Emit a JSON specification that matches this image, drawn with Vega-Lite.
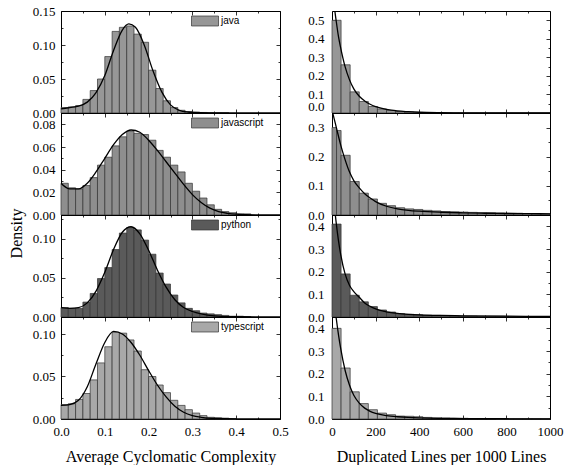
{
"$schema": "https://vega.github.io/schema/vega-lite/v6.json",
"padding": {"left": 7, "top": 4, "right": 0, "bottom": 0},
"config": {
  "view": {"stroke": "#000000", "strokeWidth": 1},
  "axis": {"domain": false, "grid": false, "tickColor": "#000000", "tickWidth": 0.8, "labelFont": "Liberation Serif", "labelFontSize": 13, "labelColor": "#000000", "labelOverlap": false, "labelFlush": false, "labelBound": false, "titleFont": "Liberation Serif", "titleFontSize": 16, "titleFontWeight": "normal", "titleColor": "#000000", "labelPadding": 10},
  "legend": {"labelFont": "Liberation Sans", "labelFontSize": 10, "labelColor": "#000000", "symbolType": "M-1,-0.37H1V0.37H-1Z", "symbolSize": 729, "symbolStrokeColor": "#333333", "symbolStrokeWidth": 0.7, "labelOffset": 2, "padding": 0}
},
"datasets": {
"jc": [{"a":0,"b":0.0167,"d":0.008},{"a":0.0167,"b":0.0333,"d":0.009},{"a":0.0333,"b":0.05,"d":0.011},{"a":0.05,"b":0.0667,"d":0.020},{"a":0.0667,"b":0.0833,"d":0.033},{"a":0.0833,"b":0.1,"d":0.050},{"a":0.1,"b":0.1167,"d":0.083},{"a":0.1167,"b":0.1333,"d":0.120},{"a":0.1333,"b":0.15,"d":0.126},{"a":0.15,"b":0.1667,"d":0.128},{"a":0.1667,"b":0.1833,"d":0.116},{"a":0.1833,"b":0.2,"d":0.104},{"a":0.2,"b":0.2167,"d":0.063},{"a":0.2167,"b":0.2333,"d":0.036},{"a":0.2333,"b":0.25,"d":0.018},{"a":0.25,"b":0.2667,"d":0.008},{"a":0.2667,"b":0.2833,"d":0.004},{"a":0.2833,"b":0.3,"d":0.002},{"a":0.3,"b":0.3167,"d":0.0012},{"a":0.3167,"b":0.3333,"d":0.0008},{"a":0.3333,"b":0.35,"d":0.0005},{"a":0.35,"b":0.3667,"d":0.0003},{"a":0.3667,"b":0.3833,"d":0.0002}],
"jk": [{"x":0,"d":0.006},{"x":0.02,"d":0.008},{"x":0.04,"d":0.010},{"x":0.06,"d":0.016},{"x":0.08,"d":0.030},{"x":0.10,"d":0.055},{"x":0.12,"d":0.092},{"x":0.14,"d":0.122},{"x":0.155,"d":0.131},{"x":0.17,"d":0.126},{"x":0.19,"d":0.100},{"x":0.21,"d":0.062},{"x":0.23,"d":0.031},{"x":0.25,"d":0.012},{"x":0.27,"d":0.004},{"x":0.29,"d":0.0015},{"x":0.32,"d":0.0004},{"x":0.36,"d":0.0001},{"x":0.5,"d":0}],
"jsc": [{"a":0,"b":0.0167,"d":0.028},{"a":0.0167,"b":0.0333,"d":0.024},{"a":0.0333,"b":0.05,"d":0.023},{"a":0.05,"b":0.0667,"d":0.026},{"a":0.0667,"b":0.0833,"d":0.033},{"a":0.0833,"b":0.1,"d":0.044},{"a":0.1,"b":0.1167,"d":0.051},{"a":0.1167,"b":0.1333,"d":0.061},{"a":0.1333,"b":0.15,"d":0.069},{"a":0.15,"b":0.1667,"d":0.074},{"a":0.1667,"b":0.1833,"d":0.072},{"a":0.1833,"b":0.2,"d":0.071},{"a":0.2,"b":0.2167,"d":0.066},{"a":0.2167,"b":0.2333,"d":0.057},{"a":0.2333,"b":0.25,"d":0.051},{"a":0.25,"b":0.2667,"d":0.044},{"a":0.2667,"b":0.2833,"d":0.038},{"a":0.2833,"b":0.3,"d":0.028},{"a":0.3,"b":0.3167,"d":0.021},{"a":0.3167,"b":0.3333,"d":0.015},{"a":0.3333,"b":0.35,"d":0.009},{"a":0.35,"b":0.3667,"d":0.005},{"a":0.3667,"b":0.3833,"d":0.003},{"a":0.3833,"b":0.4,"d":0.002},{"a":0.4,"b":0.4167,"d":0.001},{"a":0.4167,"b":0.4333,"d":0.001}],
"jsk": [{"x":0,"d":0.028},{"x":0.02,"d":0.023},{"x":0.04,"d":0.023},{"x":0.06,"d":0.028},{"x":0.08,"d":0.038},{"x":0.10,"d":0.050},{"x":0.12,"d":0.062},{"x":0.14,"d":0.071},{"x":0.16,"d":0.075},{"x":0.18,"d":0.073},{"x":0.20,"d":0.066},{"x":0.22,"d":0.057},{"x":0.24,"d":0.047},{"x":0.26,"d":0.037},{"x":0.28,"d":0.027},{"x":0.30,"d":0.018},{"x":0.32,"d":0.011},{"x":0.34,"d":0.006},{"x":0.36,"d":0.003},{"x":0.38,"d":0.0015},{"x":0.40,"d":0.0007},{"x":0.45,"d":0.0001},{"x":0.5,"d":0}],
"pc": [{"a":0,"b":0.0167,"d":0.012},{"a":0.0167,"b":0.0333,"d":0.011},{"a":0.0333,"b":0.05,"d":0.011},{"a":0.05,"b":0.0667,"d":0.019},{"a":0.0667,"b":0.0833,"d":0.030},{"a":0.0833,"b":0.1,"d":0.049},{"a":0.1,"b":0.1167,"d":0.063},{"a":0.1167,"b":0.1333,"d":0.086},{"a":0.1333,"b":0.15,"d":0.107},{"a":0.15,"b":0.1667,"d":0.114},{"a":0.1667,"b":0.1833,"d":0.111},{"a":0.1833,"b":0.2,"d":0.098},{"a":0.2,"b":0.2167,"d":0.080},{"a":0.2167,"b":0.2333,"d":0.056},{"a":0.2333,"b":0.25,"d":0.042},{"a":0.25,"b":0.2667,"d":0.028},{"a":0.2667,"b":0.2833,"d":0.018},{"a":0.2833,"b":0.3,"d":0.011},{"a":0.3,"b":0.3167,"d":0.008},{"a":0.3167,"b":0.3333,"d":0.005},{"a":0.3333,"b":0.35,"d":0.004},{"a":0.35,"b":0.3667,"d":0.003},{"a":0.3667,"b":0.3833,"d":0.002},{"a":0.3833,"b":0.4,"d":0.001},{"a":0.4,"b":0.4167,"d":0.001},{"a":0.4167,"b":0.4333,"d":0.0005}],
"pk": [{"x":0,"d":0.012},{"x":0.02,"d":0.011},{"x":0.04,"d":0.012},{"x":0.06,"d":0.018},{"x":0.08,"d":0.033},{"x":0.10,"d":0.057},{"x":0.12,"d":0.086},{"x":0.14,"d":0.108},{"x":0.16,"d":0.115},{"x":0.18,"d":0.106},{"x":0.20,"d":0.085},{"x":0.22,"d":0.060},{"x":0.24,"d":0.038},{"x":0.26,"d":0.022},{"x":0.28,"d":0.012},{"x":0.30,"d":0.007},{"x":0.32,"d":0.004},{"x":0.35,"d":0.0015},{"x":0.40,"d":0.0003},{"x":0.5,"d":0}],
"tc": [{"a":0,"b":0.0167,"d":0.017},{"a":0.0167,"b":0.0333,"d":0.018},{"a":0.0333,"b":0.05,"d":0.023},{"a":0.05,"b":0.0667,"d":0.030},{"a":0.0667,"b":0.0833,"d":0.046},{"a":0.0833,"b":0.1,"d":0.066},{"a":0.1,"b":0.1167,"d":0.085},{"a":0.1167,"b":0.1333,"d":0.102},{"a":0.1333,"b":0.15,"d":0.101},{"a":0.15,"b":0.1667,"d":0.093},{"a":0.1667,"b":0.1833,"d":0.080},{"a":0.1833,"b":0.2,"d":0.058},{"a":0.2,"b":0.2167,"d":0.050},{"a":0.2167,"b":0.2333,"d":0.040},{"a":0.2333,"b":0.25,"d":0.031},{"a":0.25,"b":0.2667,"d":0.022},{"a":0.2667,"b":0.2833,"d":0.016},{"a":0.2833,"b":0.3,"d":0.011},{"a":0.3,"b":0.3167,"d":0.007},{"a":0.3167,"b":0.3333,"d":0.004},{"a":0.3333,"b":0.35,"d":0.002},{"a":0.35,"b":0.3667,"d":0.0015},{"a":0.3667,"b":0.3833,"d":0.001},{"a":0.3833,"b":0.4,"d":0.0005}],
"tk": [{"x":0,"d":0.016},{"x":0.02,"d":0.017},{"x":0.04,"d":0.022},{"x":0.06,"d":0.038},{"x":0.08,"d":0.065},{"x":0.10,"d":0.090},{"x":0.12,"d":0.103},{"x":0.14,"d":0.100},{"x":0.16,"d":0.090},{"x":0.18,"d":0.075},{"x":0.20,"d":0.057},{"x":0.22,"d":0.040},{"x":0.24,"d":0.026},{"x":0.26,"d":0.015},{"x":0.28,"d":0.008},{"x":0.30,"d":0.004},{"x":0.32,"d":0.002},{"x":0.35,"d":0.0006},{"x":0.40,"d":0.0001},{"x":0.5,"d":0}],
"jr": [{"a":0,"b":41.7,"d":0.50},{"a":41.7,"b":83.3,"d":0.26},{"a":83.3,"b":125,"d":0.114},{"a":125,"b":166.7,"d":0.062},{"a":166.7,"b":208.3,"d":0.035},{"a":208.3,"b":250,"d":0.022},{"a":250,"b":291.7,"d":0.014},{"a":291.7,"b":333.3,"d":0.008},{"a":333.3,"b":375,"d":0.005},{"a":375,"b":416.7,"d":0.003},{"a":416.7,"b":458.3,"d":0.002},{"a":458.3,"b":500,"d":0.0015},{"a":500,"b":541.7,"d":0.001},{"a":541.7,"b":583.3,"d":0.001},{"a":583.3,"b":625,"d":0.0007},{"a":625,"b":666.7,"d":0.0005},{"a":666.7,"b":708.3,"d":0.0004},{"a":708.3,"b":750,"d":0.0003},{"a":750,"b":791.7,"d":0.0002},{"a":791.7,"b":833.3,"d":0.0002},{"a":833.3,"b":875,"d":0.0001},{"a":875,"b":916.7,"d":0.0001},{"a":916.7,"b":958.3,"d":0.0001},{"a":958.3,"b":1000,"d":0.0001}],
"jrk": [{"x":0,"d":0.70},{"x":10,"d":0.58},{"x":20,"d":0.49},{"x":30,"d":0.41},{"x":40,"d":0.35},{"x":60,"d":0.25},{"x":80,"d":0.18},{"x":100,"d":0.13},{"x":125,"d":0.09},{"x":150,"d":0.065},{"x":175,"d":0.047},{"x":200,"d":0.034},{"x":250,"d":0.019},{"x":300,"d":0.011},{"x":350,"d":0.007},{"x":400,"d":0.004},{"x":500,"d":0.0015},{"x":600,"d":0.0006},{"x":800,"d":0.0001},{"x":1000,"d":0}],
"jsr": [{"a":0,"b":20.8,"d":0.30},{"a":20.8,"b":41.7,"d":0.29},{"a":41.7,"b":83.3,"d":0.205},{"a":83.3,"b":125,"d":0.115},{"a":125,"b":166.7,"d":0.075},{"a":166.7,"b":208.3,"d":0.055},{"a":208.3,"b":250,"d":0.040},{"a":250,"b":291.7,"d":0.032},{"a":291.7,"b":333.3,"d":0.025},{"a":333.3,"b":375,"d":0.021},{"a":375,"b":416.7,"d":0.019},{"a":416.7,"b":458.3,"d":0.016},{"a":458.3,"b":500,"d":0.014},{"a":500,"b":541.7,"d":0.012},{"a":541.7,"b":583.3,"d":0.011},{"a":583.3,"b":625,"d":0.010},{"a":625,"b":666.7,"d":0.009},{"a":666.7,"b":708.3,"d":0.008},{"a":708.3,"b":750,"d":0.008},{"a":750,"b":791.7,"d":0.007},{"a":791.7,"b":833.3,"d":0.006},{"a":833.3,"b":875,"d":0.006},{"a":875,"b":916.7,"d":0.005},{"a":916.7,"b":958.3,"d":0.005},{"a":958.3,"b":1000,"d":0.004}],
"jsrk": [{"x":0,"d":0.36},{"x":10,"d":0.33},{"x":20,"d":0.30},{"x":40,"d":0.24},{"x":60,"d":0.19},{"x":80,"d":0.148},{"x":100,"d":0.118},{"x":125,"d":0.093},{"x":150,"d":0.073},{"x":175,"d":0.058},{"x":200,"d":0.046},{"x":250,"d":0.030},{"x":300,"d":0.021},{"x":350,"d":0.016},{"x":400,"d":0.013},{"x":500,"d":0.0095},{"x":600,"d":0.0075},{"x":700,"d":0.006},{"x":800,"d":0.0052},{"x":900,"d":0.0046},{"x":1000,"d":0.0042}],
"pr": [{"a":0,"b":41.7,"d":0.41},{"a":41.7,"b":83.3,"d":0.19},{"a":83.3,"b":125,"d":0.096},{"a":125,"b":166.7,"d":0.067},{"a":166.7,"b":208.3,"d":0.046},{"a":208.3,"b":250,"d":0.031},{"a":250,"b":291.7,"d":0.022},{"a":291.7,"b":333.3,"d":0.015},{"a":333.3,"b":375,"d":0.012},{"a":375,"b":416.7,"d":0.010},{"a":416.7,"b":458.3,"d":0.008},{"a":458.3,"b":500,"d":0.007},{"a":500,"b":541.7,"d":0.006},{"a":541.7,"b":583.3,"d":0.005},{"a":583.3,"b":625,"d":0.004},{"a":625,"b":666.7,"d":0.004},{"a":666.7,"b":708.3,"d":0.003},{"a":708.3,"b":750,"d":0.003},{"a":750,"b":791.7,"d":0.003},{"a":791.7,"b":833.3,"d":0.002},{"a":833.3,"b":875,"d":0.002},{"a":875,"b":916.7,"d":0.002},{"a":916.7,"b":958.3,"d":0.002},{"a":958.3,"b":1000,"d":0.002}],
"prk": [{"x":0,"d":0.62},{"x":10,"d":0.50},{"x":20,"d":0.41},{"x":30,"d":0.335},{"x":40,"d":0.275},{"x":60,"d":0.19},{"x":80,"d":0.14},{"x":100,"d":0.112},{"x":125,"d":0.087},{"x":150,"d":0.062},{"x":175,"d":0.047},{"x":200,"d":0.036},{"x":250,"d":0.023},{"x":300,"d":0.016},{"x":350,"d":0.012},{"x":400,"d":0.0095},{"x":500,"d":0.0068},{"x":600,"d":0.0052},{"x":800,"d":0.0035},{"x":1000,"d":0.0027}],
"tr": [{"a":0,"b":41.7,"d":0.40},{"a":41.7,"b":83.3,"d":0.225},{"a":83.3,"b":125,"d":0.12},{"a":125,"b":166.7,"d":0.068},{"a":166.7,"b":208.3,"d":0.041},{"a":208.3,"b":250,"d":0.026},{"a":250,"b":291.7,"d":0.019},{"a":291.7,"b":333.3,"d":0.013},{"a":333.3,"b":375,"d":0.012},{"a":375,"b":416.7,"d":0.010},{"a":416.7,"b":458.3,"d":0.007},{"a":458.3,"b":500,"d":0.005},{"a":500,"b":541.7,"d":0.004},{"a":541.7,"b":583.3,"d":0.003},{"a":583.3,"b":625,"d":0.003},{"a":625,"b":666.7,"d":0.002},{"a":666.7,"b":708.3,"d":0.002},{"a":708.3,"b":750,"d":0.002},{"a":750,"b":791.7,"d":0.001},{"a":791.7,"b":833.3,"d":0.001},{"a":833.3,"b":875,"d":0.001},{"a":875,"b":916.7,"d":0.001},{"a":916.7,"b":958.3,"d":0.001},{"a":958.3,"b":1000,"d":0.001}],
"trk": [{"x":0,"d":0.62},{"x":10,"d":0.52},{"x":20,"d":0.44},{"x":30,"d":0.37},{"x":40,"d":0.31},{"x":60,"d":0.215},{"x":80,"d":0.15},{"x":100,"d":0.105},{"x":125,"d":0.07},{"x":150,"d":0.048},{"x":175,"d":0.034},{"x":200,"d":0.025},{"x":250,"d":0.015},{"x":300,"d":0.01},{"x":350,"d":0.007},{"x":400,"d":0.005},{"x":500,"d":0.003},{"x":600,"d":0.002},{"x":800,"d":0.001},{"x":1000,"d":0.0005}]
},
"hconcat": [
{
"vconcat": [
{
 "width": 219, "height": 102,
 "resolve": {"axis": {"x": "independent", "y": "independent"}},
 "layer": [
  {"data": {"name": "jc"},
   "mark": {"type": "rect", "stroke": "#333333", "strokeWidth": 0.7},
   "encoding": {
    "x": {"field": "a", "type": "quantitative", "scale": {"domain": [0, 0.5], "nice": false}, "axis": {"orient": "bottom", "title": null, "labels": false, "values": [0,0.05,0.1,0.15,0.2,0.25,0.3,0.35,0.4,0.45,0.5], "tickSize": {"condition": {"test": "abs(datum.value*10-round(datum.value*10))<0.000001", "value": -4}, "value": -2}}},
    "x2": {"field": "b"},
    "y": {"field": "d", "type": "quantitative", "scale": {"domain": [0, 0.15], "nice": false}, "axis": {"orient": "left", "title": null, "values": [0,0.025,0.05,0.075,0.1,0.125,0.15], "format": ".2f", "labelExpr": "abs(datum.value/0.05-round(datum.value/0.05))<0.000001 ? datum.label : ''", "tickSize": {"condition": {"test": "abs(datum.value/0.05-round(datum.value/0.05))<0.000001", "value": -4}, "value": -2}}},
    "y2": {"datum": 0},
    "color": {"datum": "java", "scale": {"range": ["#979797"]}, "legend": {"orient": "none", "legendX": 130, "legendY": -4, "title": null}}
   }},
  {"data": {"name": "jk"},
   "mark": {"type": "line", "color": "#000000", "strokeWidth": 1.3, "interpolate": "monotone", "clip": true},
   "encoding": {
    "x": {"field": "x", "type": "quantitative", "scale": {"domain": [0, 0.5], "nice": false}, "axis": {"orient": "top", "title": null, "labels": false, "values": [0,0.05,0.1,0.15,0.2,0.25,0.3,0.35,0.4,0.45,0.5], "tickSize": {"condition": {"test": "abs(datum.value*10-round(datum.value*10))<0.000001", "value": -4}, "value": -2}}},
    "y": {"field": "d", "type": "quantitative", "scale": {"domain": [0, 0.15], "nice": false}, "axis": {"orient": "right", "title": null, "labels": false, "values": [0,0.025,0.05,0.075,0.1,0.125,0.15], "tickSize": {"condition": {"test": "abs(datum.value/0.05-round(datum.value/0.05))<0.000001", "value": -4}, "value": -2}}}
   }}
 ]
},
{
 "width": 219, "height": 102,
 "resolve": {"axis": {"x": "independent", "y": "independent"}},
 "layer": [
  {"data": {"name": "jsc"},
   "mark": {"type": "rect", "stroke": "#333333", "strokeWidth": 0.7},
   "encoding": {
    "x": {"field": "a", "type": "quantitative", "scale": {"domain": [0, 0.5], "nice": false}, "axis": {"orient": "bottom", "title": null, "labels": false, "values": [0,0.05,0.1,0.15,0.2,0.25,0.3,0.35,0.4,0.45,0.5], "tickSize": {"condition": {"test": "abs(datum.value*10-round(datum.value*10))<0.000001", "value": -4}, "value": -2}}},
    "x2": {"field": "b"},
    "y": {"field": "d", "type": "quantitative", "scale": {"domain": [0, 0.09], "nice": false}, "axis": {"orient": "left", "title": "Density", "titleX": -37, "titleY": 120, "values": [0,0.01,0.02,0.03,0.04,0.05,0.06,0.07,0.08,0.09], "format": ".2f", "labelExpr": "abs(datum.value/0.02-round(datum.value/0.02))<0.000001 ? datum.label : ''", "tickSize": {"condition": {"test": "abs(datum.value/0.02-round(datum.value/0.02))<0.000001", "value": -4}, "value": -2}}},
    "y2": {"datum": 0},
    "color": {"datum": "javascript", "scale": {"range": ["#8e8e8e"]}, "legend": {"orient": "none", "legendX": 130, "legendY": -4, "title": null}}
   }},
  {"data": {"name": "jsk"},
   "mark": {"type": "line", "color": "#000000", "strokeWidth": 1.3, "interpolate": "monotone", "clip": true},
   "encoding": {
    "x": {"field": "x", "type": "quantitative", "scale": {"domain": [0, 0.5], "nice": false}, "axis": {"orient": "top", "title": null, "labels": false, "values": [0,0.05,0.1,0.15,0.2,0.25,0.3,0.35,0.4,0.45,0.5], "tickSize": {"condition": {"test": "abs(datum.value*10-round(datum.value*10))<0.000001", "value": -4}, "value": -2}}},
    "y": {"field": "d", "type": "quantitative", "scale": {"domain": [0, 0.09], "nice": false}, "axis": {"orient": "right", "title": null, "labels": false, "values": [0,0.01,0.02,0.03,0.04,0.05,0.06,0.07,0.08,0.09], "tickSize": {"condition": {"test": "abs(datum.value/0.02-round(datum.value/0.02))<0.000001", "value": -4}, "value": -2}}}
   }}
 ]
},
{
 "width": 219, "height": 102,
 "resolve": {"axis": {"x": "independent", "y": "independent"}},
 "layer": [
  {"data": {"name": "pc"},
   "mark": {"type": "rect", "stroke": "#333333", "strokeWidth": 0.7},
   "encoding": {
    "x": {"field": "a", "type": "quantitative", "scale": {"domain": [0, 0.5], "nice": false}, "axis": {"orient": "bottom", "title": null, "labels": false, "values": [0,0.05,0.1,0.15,0.2,0.25,0.3,0.35,0.4,0.45,0.5], "tickSize": {"condition": {"test": "abs(datum.value*10-round(datum.value*10))<0.000001", "value": -4}, "value": -2}}},
    "x2": {"field": "b"},
    "y": {"field": "d", "type": "quantitative", "scale": {"domain": [0, 0.13], "nice": false}, "axis": {"orient": "left", "title": null, "values": [0,0.025,0.05,0.075,0.1,0.125], "format": ".2f", "labelExpr": "abs(datum.value/0.05-round(datum.value/0.05))<0.000001 ? datum.label : ''", "tickSize": {"condition": {"test": "abs(datum.value/0.05-round(datum.value/0.05))<0.000001", "value": -4}, "value": -2}}},
    "y2": {"datum": 0},
    "color": {"datum": "python", "scale": {"range": ["#5a5a5a"]}, "legend": {"orient": "none", "legendX": 130, "legendY": -4, "title": null}}
   }},
  {"data": {"name": "pk"},
   "mark": {"type": "line", "color": "#000000", "strokeWidth": 1.3, "interpolate": "monotone", "clip": true},
   "encoding": {
    "x": {"field": "x", "type": "quantitative", "scale": {"domain": [0, 0.5], "nice": false}, "axis": {"orient": "top", "title": null, "labels": false, "values": [0,0.05,0.1,0.15,0.2,0.25,0.3,0.35,0.4,0.45,0.5], "tickSize": {"condition": {"test": "abs(datum.value*10-round(datum.value*10))<0.000001", "value": -4}, "value": -2}}},
    "y": {"field": "d", "type": "quantitative", "scale": {"domain": [0, 0.13], "nice": false}, "axis": {"orient": "right", "title": null, "labels": false, "values": [0,0.025,0.05,0.075,0.1,0.125], "tickSize": {"condition": {"test": "abs(datum.value/0.05-round(datum.value/0.05))<0.000001", "value": -4}, "value": -2}}}
   }}
 ]
},
{
 "width": 219, "height": 102,
 "resolve": {"axis": {"x": "independent", "y": "independent"}},
 "layer": [
  {"data": {"name": "tc"},
   "mark": {"type": "rect", "stroke": "#333333", "strokeWidth": 0.7},
   "encoding": {
    "x": {"field": "a", "type": "quantitative", "scale": {"domain": [0, 0.5], "nice": false}, "axis": {"orient": "bottom", "title": "Average Cyclomatic Complexity", "titlePadding": 8, "format": ".1f", "labelExpr": "abs(datum.value*10-round(datum.value*10))<0.000001 ? datum.label : ''", "values": [0,0.05,0.1,0.15,0.2,0.25,0.3,0.35,0.4,0.45,0.5], "tickSize": {"condition": {"test": "abs(datum.value*10-round(datum.value*10))<0.000001", "value": -4}, "value": -2}}},
    "x2": {"field": "b"},
    "y": {"field": "d", "type": "quantitative", "scale": {"domain": [0, 0.12], "nice": false}, "axis": {"orient": "left", "title": null, "values": [0,0.025,0.05,0.075,0.1], "format": ".2f", "labelExpr": "abs(datum.value/0.05-round(datum.value/0.05))<0.000001 ? datum.label : ''", "tickSize": {"condition": {"test": "abs(datum.value/0.05-round(datum.value/0.05))<0.000001", "value": -4}, "value": -2}}},
    "y2": {"datum": 0},
    "color": {"datum": "typescript", "scale": {"range": ["#a8a8a8"]}, "legend": {"orient": "none", "legendX": 130, "legendY": -4, "title": null}}
   }},
  {"data": {"name": "tk"},
   "mark": {"type": "line", "color": "#000000", "strokeWidth": 1.3, "interpolate": "monotone", "clip": true},
   "encoding": {
    "x": {"field": "x", "type": "quantitative", "scale": {"domain": [0, 0.5], "nice": false}, "axis": {"orient": "top", "title": null, "labels": false, "values": [0,0.05,0.1,0.15,0.2,0.25,0.3,0.35,0.4,0.45,0.5], "tickSize": {"condition": {"test": "abs(datum.value*10-round(datum.value*10))<0.000001", "value": -4}, "value": -2}}},
    "y": {"field": "d", "type": "quantitative", "scale": {"domain": [0, 0.12], "nice": false}, "axis": {"orient": "right", "title": null, "labels": false, "values": [0,0.025,0.05,0.075,0.1], "tickSize": {"condition": {"test": "abs(datum.value/0.05-round(datum.value/0.05))<0.000001", "value": -4}, "value": -2}}}
   }}
 ]
}
],
"spacing": 0,
"bounds": "flush",
"resolve": {"scale": {"color": "independent"}, "legend": {"color": "independent"}}
},
{
"vconcat": [
{
 "width": 218, "height": 102,
 "resolve": {"axis": {"x": "independent", "y": "independent"}},
 "layer": [
  {"data": {"name": "jr"},
   "mark": {"type": "rect", "stroke": "#333333", "strokeWidth": 0.7, "fill": "#979797"},
   "encoding": {
    "x": {"field": "a", "type": "quantitative", "scale": {"domain": [0, 1000], "nice": false}, "axis": {"orient": "bottom", "title": null, "labels": false, "values": [0,100,200,300,400,500,600,700,800,900,1000], "tickSize": {"condition": {"test": "datum.value%200===0", "value": -4}, "value": -2}}},
    "x2": {"field": "b"},
    "y": {"field": "d", "type": "quantitative", "scale": {"domain": [0, 0.55], "nice": false}, "axis": {"orient": "left", "title": null, "labelPadding": 12, "labelFlush": true, "values": [0,0.05,0.1,0.15,0.2,0.25,0.3,0.35,0.4,0.45,0.5], "format": ".1f", "labelExpr": "abs(datum.value*10-round(datum.value*10))<0.000001 ? datum.label : ''", "tickSize": {"condition": {"test": "abs(datum.value*10-round(datum.value*10))<0.000001", "value": -4}, "value": -2}}},
    "y2": {"datum": 0}
   }},
  {"data": {"name": "jrk"},
   "mark": {"type": "line", "color": "#000000", "strokeWidth": 1.3, "interpolate": "monotone", "clip": true},
   "encoding": {
    "x": {"field": "x", "type": "quantitative", "scale": {"domain": [0, 1000], "nice": false}, "axis": {"orient": "top", "title": null, "labels": false, "values": [0,100,200,300,400,500,600,700,800,900,1000], "tickSize": {"condition": {"test": "datum.value%200===0", "value": -4}, "value": -2}}},
    "y": {"field": "d", "type": "quantitative", "scale": {"domain": [0, 0.55], "nice": false}, "axis": {"orient": "right", "title": null, "labels": false, "values": [0,0.05,0.1,0.15,0.2,0.25,0.3,0.35,0.4,0.45,0.5], "tickSize": {"condition": {"test": "abs(datum.value*10-round(datum.value*10))<0.000001", "value": -4}, "value": -2}}}
   }}
 ]
},
{
 "width": 218, "height": 102,
 "resolve": {"axis": {"x": "independent", "y": "independent"}},
 "layer": [
  {"data": {"name": "jsr"},
   "mark": {"type": "rect", "stroke": "#333333", "strokeWidth": 0.7, "fill": "#8e8e8e"},
   "encoding": {
    "x": {"field": "a", "type": "quantitative", "scale": {"domain": [0, 1000], "nice": false}, "axis": {"orient": "bottom", "title": null, "labels": false, "values": [0,100,200,300,400,500,600,700,800,900,1000], "tickSize": {"condition": {"test": "datum.value%200===0", "value": -4}, "value": -2}}},
    "x2": {"field": "b"},
    "y": {"field": "d", "type": "quantitative", "scale": {"domain": [0, 0.35], "nice": false}, "axis": {"orient": "left", "title": null, "labelPadding": 12, "values": [0,0.05,0.1,0.15,0.2,0.25,0.3,0.35], "format": ".1f", "labelExpr": "abs(datum.value*10-round(datum.value*10))<0.000001 ? datum.label : ''", "tickSize": {"condition": {"test": "abs(datum.value*10-round(datum.value*10))<0.000001", "value": -4}, "value": -2}}},
    "y2": {"datum": 0}
   }},
  {"data": {"name": "jsrk"},
   "mark": {"type": "line", "color": "#000000", "strokeWidth": 1.3, "interpolate": "monotone", "clip": true},
   "encoding": {
    "x": {"field": "x", "type": "quantitative", "scale": {"domain": [0, 1000], "nice": false}, "axis": {"orient": "top", "title": null, "labels": false, "values": [0,100,200,300,400,500,600,700,800,900,1000], "tickSize": {"condition": {"test": "datum.value%200===0", "value": -4}, "value": -2}}},
    "y": {"field": "d", "type": "quantitative", "scale": {"domain": [0, 0.35], "nice": false}, "axis": {"orient": "right", "title": null, "labels": false, "values": [0,0.05,0.1,0.15,0.2,0.25,0.3,0.35], "tickSize": {"condition": {"test": "abs(datum.value*10-round(datum.value*10))<0.000001", "value": -4}, "value": -2}}}
   }}
 ]
},
{
 "width": 218, "height": 102,
 "resolve": {"axis": {"x": "independent", "y": "independent"}},
 "layer": [
  {"data": {"name": "pr"},
   "mark": {"type": "rect", "stroke": "#333333", "strokeWidth": 0.7, "fill": "#5a5a5a"},
   "encoding": {
    "x": {"field": "a", "type": "quantitative", "scale": {"domain": [0, 1000], "nice": false}, "axis": {"orient": "bottom", "title": null, "labels": false, "values": [0,100,200,300,400,500,600,700,800,900,1000], "tickSize": {"condition": {"test": "datum.value%200===0", "value": -4}, "value": -2}}},
    "x2": {"field": "b"},
    "y": {"field": "d", "type": "quantitative", "scale": {"domain": [0, 0.45], "nice": false}, "axis": {"orient": "left", "title": null, "labelPadding": 12, "values": [0,0.05,0.1,0.15,0.2,0.25,0.3,0.35,0.4,0.45], "format": ".1f", "labelExpr": "abs(datum.value*10-round(datum.value*10))<0.000001 ? datum.label : ''", "tickSize": {"condition": {"test": "abs(datum.value*10-round(datum.value*10))<0.000001", "value": -4}, "value": -2}}},
    "y2": {"datum": 0}
   }},
  {"data": {"name": "prk"},
   "mark": {"type": "line", "color": "#000000", "strokeWidth": 1.3, "interpolate": "monotone", "clip": true},
   "encoding": {
    "x": {"field": "x", "type": "quantitative", "scale": {"domain": [0, 1000], "nice": false}, "axis": {"orient": "top", "title": null, "labels": false, "values": [0,100,200,300,400,500,600,700,800,900,1000], "tickSize": {"condition": {"test": "datum.value%200===0", "value": -4}, "value": -2}}},
    "y": {"field": "d", "type": "quantitative", "scale": {"domain": [0, 0.45], "nice": false}, "axis": {"orient": "right", "title": null, "labels": false, "values": [0,0.05,0.1,0.15,0.2,0.25,0.3,0.35,0.4,0.45], "tickSize": {"condition": {"test": "abs(datum.value*10-round(datum.value*10))<0.000001", "value": -4}, "value": -2}}}
   }}
 ]
},
{
 "width": 218, "height": 102,
 "resolve": {"axis": {"x": "independent", "y": "independent"}},
 "layer": [
  {"data": {"name": "tr"},
   "mark": {"type": "rect", "stroke": "#333333", "strokeWidth": 0.7, "fill": "#a8a8a8"},
   "encoding": {
    "x": {"field": "a", "type": "quantitative", "scale": {"domain": [0, 1000], "nice": false}, "axis": {"orient": "bottom", "title": "Duplicated Lines per 1000 Lines", "titlePadding": 8, "format": "d", "labelExpr": "datum.value%200===0 ? datum.label : ''", "values": [0,100,200,300,400,500,600,700,800,900,1000], "tickSize": {"condition": {"test": "datum.value%200===0", "value": -4}, "value": -2}}},
    "x2": {"field": "b"},
    "y": {"field": "d", "type": "quantitative", "scale": {"domain": [0, 0.45], "nice": false}, "axis": {"orient": "left", "title": null, "labelPadding": 12, "values": [0,0.05,0.1,0.15,0.2,0.25,0.3,0.35,0.4,0.45], "format": ".1f", "labelExpr": "abs(datum.value*10-round(datum.value*10))<0.000001 ? datum.label : ''", "tickSize": {"condition": {"test": "abs(datum.value*10-round(datum.value*10))<0.000001", "value": -4}, "value": -2}}},
    "y2": {"datum": 0}
   }},
  {"data": {"name": "trk"},
   "mark": {"type": "line", "color": "#000000", "strokeWidth": 1.3, "interpolate": "monotone", "clip": true},
   "encoding": {
    "x": {"field": "x", "type": "quantitative", "scale": {"domain": [0, 1000], "nice": false}, "axis": {"orient": "top", "title": null, "labels": false, "values": [0,100,200,300,400,500,600,700,800,900,1000], "tickSize": {"condition": {"test": "datum.value%200===0", "value": -4}, "value": -2}}},
    "y": {"field": "d", "type": "quantitative", "scale": {"domain": [0, 0.45], "nice": false}, "axis": {"orient": "right", "title": null, "labels": false, "values": [0,0.05,0.1,0.15,0.2,0.25,0.3,0.35,0.4,0.45], "tickSize": {"condition": {"test": "abs(datum.value*10-round(datum.value*10))<0.000001", "value": -4}, "value": -2}}}
   }}
 ]
}
],
"spacing": 0,
"bounds": "flush"
}
],
"spacing": 271,
"bounds": "flush",
"resolve": {"scale": {"color": "independent"}, "legend": {"color": "independent"}}
}
